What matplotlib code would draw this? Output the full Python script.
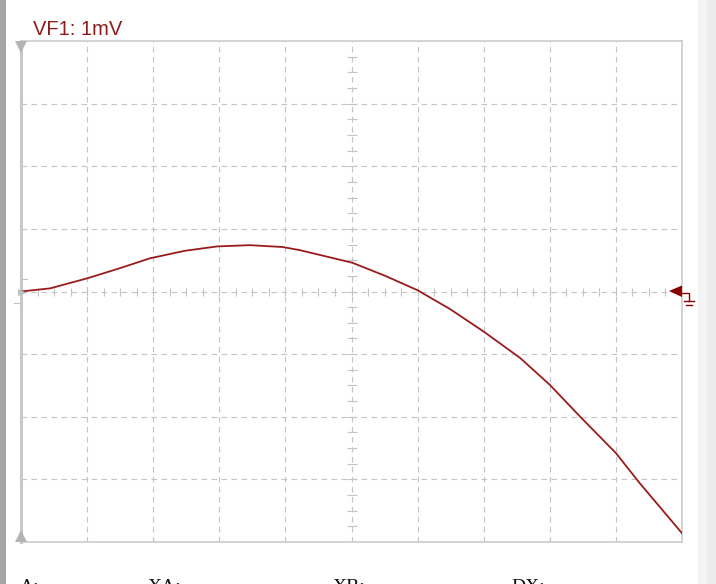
import matplotlib.pyplot as plt
import numpy as np

# trace VF1 (x in divisions, y in mV)
time_div = [0.0, 0.44, 1.0, 1.49, 1.95, 2.48, 2.97, 3.46, 3.96, 4.22, 5.01,
            5.51, 6.0, 6.49, 7.0, 7.55, 8.0, 8.46, 9.0, 9.36, 10.0]
vf1_mv = [0.0, 0.05, 0.21, 0.37, 0.53, 0.65, 0.72, 0.74, 0.71, 0.66, 0.46,
          0.25, 0.02, -0.28, -0.64, -1.06, -1.49, -2.0, -2.58, -3.06, -3.86]
channel_label = "VF1: 1mV"
cursor_labels = ["A:", "XA:", "XB:", "DX:"]

W, H = 716, 584
grid_col = "#c4c4c4"
trace_col = "#991c1c"

fig = plt.figure(figsize=(W / 100, H / 100), dpi=100)

# background strips of the screen
bg = fig.add_axes([0, 0, 1, 1], zorder=0)
bg.set_xlim(0, W)
bg.set_ylim(H, 0)
bg.axis("off")
bg.add_patch(plt.Rectangle((0, 0), 6, H, color="#a6a6a6", lw=0))
bg.add_patch(plt.Rectangle((698, 0), 9, H, color="#f4f4f4", lw=0))
bg.add_patch(plt.Rectangle((707, 0), 9, H, color="#ececec", lw=0))

x0, x1, y0, y1 = 21, 682, 41, 542
ax = fig.add_axes([x0 / W, 1 - y1 / H, (x1 - x0) / W, (y1 - y0) / H], zorder=1)
ax.set_xlim(0, 10)
ax.set_ylim(-4, 4)
ax.set_xticks([])
ax.set_yticks([])
for s in ax.spines.values():
    s.set_color("#cccccc")
    s.set_linewidth(1.2)
ax.spines["left"].set_linewidth(2.2)
ax.spines["left"].set_color("#c8c8c8")

for gx in range(1, 10):
    ax.axvline(gx, color=grid_col, lw=0.8, dashes=(5, 4), zorder=1)
for gy in range(-3, 4):
    ax.axhline(gy, color=grid_col, lw=0.8, dashes=(5, 4), zorder=1)

# small ticks on the centre lines, four per division
tx = np.arange(0.25, 10, 0.25)
ax.plot(tx, np.zeros_like(tx), ls="none", marker="|", ms=6, mew=0.8,
        color=grid_col, zorder=1)
ty = np.arange(-3.75, 4, 0.25)
ax.plot(np.full_like(ty, 5), ty, ls="none", marker="_", ms=7, mew=0.8,
        color=grid_col, zorder=1)

ax.plot(time_div, vf1_mv, color=trace_col, lw=1.3, zorder=3)

# overlay for markers on the frame
deco = fig.add_axes([0, 0, 1, 1], zorder=2)
deco.set_xlim(0, W)
deco.set_ylim(H, 0)
deco.axis("off")
deco.patch.set_visible(False)

deco.fill([15, 27, 21], [41, 41, 53], color="#b4b4b4", lw=0)
deco.fill([15, 27, 21], [542, 542, 530], color="#b4b4b4", lw=0)
deco.fill([18, 27, 18], [289, 293, 296], color="#b8c4c4", lw=0)
deco.plot([22, 27], [279, 279], color="#c0c0c0", lw=0.8)
deco.plot([14, 21], [303, 303], color="#c0c0c0", lw=0.8)

# ground marker on the right
deco.fill([669, 682, 682], [291, 285.5, 297], color="#8b0000", lw=0)
deco.plot([682, 689, 689], [293, 293, 301], color="#8b0000", lw=1)
deco.plot([684, 694], [301, 301], color="#8b0000", lw=1)
deco.plot([686, 692], [305, 305], color="#8b0000", lw=1)

fig.text(33 / W, 1 - 35 / H, channel_label, color="#8b1c1c",
         fontsize=14.5, family="Liberation Sans", va="baseline")

for lab, px in zip(cursor_labels, [20, 148, 333, 511]):
    fig.text(px / W, 1 - 579 / H, lab, family="Liberation Serif",
             fontsize=14, va="top", color="#111111")

fig.savefig("out.png", dpi=100)
